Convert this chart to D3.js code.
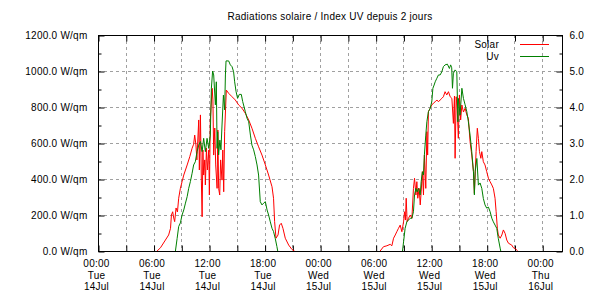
<!DOCTYPE html>
<html>
<head>
<meta charset="utf-8">
<script src="https://cdn.jsdelivr.net/npm/d3@7"></script>
<style>
  body { margin: 0; background: #fff; }
  text { font-family: "Liberation Sans", Arial, sans-serif; font-size: 10px; fill: #000; letter-spacing: 0.25px; }
</style>
</head>
<body>
<div id="chart"></div>
<script>
/* Radiations solaire / Index UV */

const title = "Radiations solaire / Index UV depuis 2 jours";
const seriesNames = ["Solar", "Uv"];
const days = ["2015-07-14", "2015-07-15"];
const rangeStart = "2015-07-14 00:00",
  rangeEnd = "2015-07-16 02:08";

// solar radiation, W/qm
const solarTue = [
  ["06:23", 0], ["06:45", 18], ["07:17", 61], ["07:38", 89], ["07:50", 126], ["07:56", 200],
  ["08:04", 218], ["08:11", 183], ["08:17", 163], ["08:26", 239], ["08:35", 217], ["08:43", 293],
  ["08:54", 348], ["09:05", 385], ["09:16", 422], ["09:27", 450], ["09:38", 478], ["09:55", 524],
  ["10:10", 571], ["10:20", 593], ["10:27", 644], ["10:35", 589], ["10:41", 506], ["10:53", 728],
  ["10:57", 450], ["11:04", 756], ["11:10", 394], ["11:15", 190], ["11:20", 561], ["11:25", 422],
  ["11:32", 506], ["11:36", 367], ["11:43", 572], ["11:49", 450], ["11:58", 561], ["12:02", 311],
  ["12:08", 728], ["12:20", 904], ["12:25", 839], ["12:30", 533], ["12:37", 683], ["12:43", 478],
  ["12:52", 348], ["12:57", 672], ["13:02", 348], ["13:09", 311], ["13:15", 506], ["13:24", 394],
  ["13:29", 561], ["13:35", 329], ["13:41", 663], ["13:52", 894], ["14:07", 876], ["14:29", 857],
  ["14:50", 839], ["15:12", 811], ["15:34", 793], ["15:55", 765], ["16:17", 728], ["16:38", 682],
  ["17:00", 626], ["17:21", 579], ["17:43", 533], ["18:05", 478], ["18:26", 422], ["18:48", 357],
  ["18:58", 293], ["19:05", 163], ["19:14", 71], ["19:27", 89], ["19:37", 144], ["19:48", 154],
  ["19:59", 126], ["20:14", 71], ["20:36", 33], ["20:57", 9], ["21:14", 0]
];

const solarWed = [
  ["06:29", 0], ["06:51", 24], ["07:13", 29], ["07:34", 37], ["07:45", 29], ["07:56", 71],
  ["08:07", 89], ["08:17", 107], ["08:28", 126], ["08:39", 144], ["08:50", 107], ["09:01", 163],
  ["09:07", 218], ["09:13", 172], ["09:18", 293], ["09:24", 163], ["09:33", 182], ["09:44", 200],
  ["09:55", 182], ["10:05", 348], ["10:12", 404], ["10:21", 311], ["10:27", 385], ["10:33", 293],
  ["10:42", 348], ["10:49", 256], ["10:55", 328], ["11:03", 441], ["11:10", 311], ["11:16", 533],
  ["11:25", 348], ["11:32", 663], ["11:37", 533], ["11:42", 774], ["11:53", 793], ["12:04", 811],
  ["12:15", 822], ["12:26", 829], ["12:37", 839], ["12:47", 829], ["12:58", 839], ["13:09", 848],
  ["13:19", 857], ["13:30", 885], ["13:41", 867], ["13:52", 885], ["14:03", 857], ["14:14", 848],
  ["14:24", 709], ["14:31", 861], ["14:35", 515], ["14:42", 857], ["14:49", 783], ["14:56", 626],
  ["15:03", 867], ["15:11", 728], ["15:19", 811], ["15:29", 772], ["15:40", 793], ["15:51", 756],
  ["16:01", 737], ["16:12", 607], ["16:23", 533], ["16:34", 441], ["16:40", 320], ["16:51", 552],
  ["16:59", 682], ["17:06", 626], ["17:13", 552], ["17:22", 515], ["17:28", 552], ["17:38", 496],
  ["17:49", 478], ["18:00", 441], ["18:11", 404], ["18:22", 385], ["18:33", 367], ["18:43", 348],
  ["18:54", 293], ["19:01", 218], ["19:09", 126], ["19:15", 89], ["19:27", 71], ["19:38", 89],
  ["19:48", 117], ["19:59", 98], ["20:10", 61], ["20:21", 43], ["20:42", 33], ["20:53", 18],
  ["21:08", 11], ["21:21", 0]
];

// UV index
const uvTue = [
  ["08:22", 0], ["08:33", 0.35], ["08:43", 0.68], ["08:54", 0.78], ["09:05", 1.0], ["09:16", 1.14],
  ["09:27", 1.33], ["09:38", 1.51], ["09:48", 1.74], ["09:59", 1.93], ["10:10", 2.16], ["10:20", 2.39],
  ["10:31", 2.48], ["10:42", 2.76], ["10:53", 2.94], ["11:04", 3.04], ["11:15", 2.76], ["11:25", 3.13],
  ["11:36", 2.76], ["11:47", 3.13], ["11:58", 2.85], ["12:08", 3.22], ["12:15", 4.52], ["12:23", 5.0],
  ["12:30", 4.89], ["12:41", 4.06], ["12:47", 4.7], ["12:52", 2.85], ["12:56", 3.31], ["13:02", 2.67],
  ["13:10", 3.08], ["13:17", 2.81], ["13:24", 3.5], ["13:33", 4.33], ["13:41", 3.92], ["13:46", 4.89],
  ["13:50", 5.28], ["14:07", 5.28], ["14:18", 5.17], ["14:29", 5.12], ["14:39", 4.98], ["14:46", 4.7],
  ["14:55", 4.43], ["15:05", 4.24], ["15:16", 4.35], ["15:29", 4.35], ["15:38", 4.15], ["15:55", 3.87],
  ["16:06", 3.69], ["16:17", 3.59], ["16:28", 3.22], ["16:38", 2.94], ["16:49", 2.81], ["17:00", 2.62],
  ["17:11", 2.39], ["17:21", 2.11], ["17:32", 1.37], ["17:43", 1.28], ["17:54", 1.33], ["18:05", 1.37],
  ["18:16", 1.14], ["18:26", 1.0], ["18:37", 0.81], ["18:48", 0.63], ["18:58", 0.54], ["19:09", 0.35],
  ["19:20", 0.12], ["19:25", 0]
];

const uvWed = [
  ["08:54", 0], ["09:01", 0.26], ["09:11", 0.63], ["09:22", 0.81], ["09:33", 0.86], ["09:44", 0.91],
  ["09:55", 0.91], ["10:05", 1.09], ["10:12", 1.56], ["10:21", 1.74], ["10:29", 1.64], ["10:38", 1.74],
  ["10:49", 1.56], ["10:55", 1.93], ["11:03", 2.2], ["11:10", 2.11], ["11:16", 2.67], ["11:25", 3.22],
  ["11:32", 3.59], ["11:42", 3.87], ["11:53", 3.96], ["12:04", 4.15], ["12:11", 4.52], ["12:19", 4.61],
  ["12:26", 4.7], ["12:37", 4.8], ["12:47", 4.89], ["12:58", 4.89], ["13:09", 4.98], ["13:19", 5.12],
  ["13:30", 5.17], ["13:45", 5.19], ["13:58", 5.07], ["14:06", 5.17], ["14:13", 5.09], ["14:18", 4.52],
  ["14:24", 4.94], ["14:35", 5.03], ["14:46", 4.98], ["14:53", 3.59], ["14:56", 4.24], ["15:07", 3.78],
  ["15:19", 4.52], ["15:29", 4.24], ["15:40", 4.06], ["15:51", 3.87], ["16:01", 3.59], ["16:12", 3.22],
  ["16:23", 2.76], ["16:34", 2.2], ["16:40", 1.56], ["16:45", 2.2], ["16:56", 2.57], ["17:06", 1.83],
  ["17:17", 1.89], ["17:28", 1.74], ["17:38", 1.46], ["17:49", 1.28], ["18:00", 1.19], ["18:11", 1.22],
  ["18:22", 1.09], ["18:33", 0.91], ["18:43", 0.81], ["18:54", 0.72], ["19:05", 0.63], ["19:15", 0.35],
  ["19:27", 0.08], ["19:31", 0]
];

const solarTicks = [0, 200, 400, 600, 800, 1000, 1200];
const uvTicks = [0, 1, 2, 3, 4, 5, 6];

const width = 610,
  height = 300,
  margin = ({ top: 35, right: 48, bottom: 49, left: 98 });

const svg = d3.select("#chart")
  .append("svg")
  .attr("width", width)
  .attr("height", height)
  .attr("viewBox", [0, 0, width, height]);

let timeParse = d3.timeParse("%Y-%m-%d %H:%M");

function toPoints(day, rows) {
  return rows.map(r => ({ t: timeParse(day + " " + r[0]), v: r[1] }));
}

let x = d3.scaleTime()
  .domain([timeParse(rangeStart), timeParse(rangeEnd)])
  .range([margin.left, width - margin.right]);

let y = d3.scaleLinear()
  .domain([0, 1200])
  .range([height - margin.bottom, margin.top]);

let y2 = d3.scaleLinear()
  .domain([0, 6])
  .range([height - margin.bottom, margin.top]);

const x0 = margin.left, x1 = width - margin.right,
  yTop = margin.top, yBot = height - margin.bottom;

// grid
let gridTimes = d3.timeHour.every(3).range(x.domain()[0], x.domain()[1])
  .filter(d => x(d) > x0 + 1 && x(d) < x1 - 1);

svg.append("g")
  .selectAll("line")
  .data(gridTimes)
  .join("line")
  .attr("x1", d => Math.round(x(d)) + 0.5)
  .attr("x2", d => Math.round(x(d)) + 0.5)
  .attr("y1", yTop)
  .attr("y2", yBot)
  .attr("stroke", "#a0a0a0")
  .attr("stroke-dasharray", "3,3");

svg.append("g")
  .selectAll("line")
  .data(solarTicks.slice(1, -1))
  .join("line")
  .attr("x1", x0)
  .attr("x2", x1)
  .attr("y1", d => Math.round(y(d)) + 0.5)
  .attr("y2", d => Math.round(y(d)) + 0.5)
  .attr("stroke", "#a0a0a0")
  .attr("stroke-dasharray", "3,3");

// left axis
svg.append("g")
  .attr("transform", `translate(${x0 + 0.5},0.5)`)
  .call(d3.axisLeft(y).tickValues(solarTicks).tickSize(-6).tickPadding(11)
    .tickFormat(d => d.toFixed(1) + " W/qm"))
  .call(g => g.select(".domain").remove());

svg.append("g")
  .attr("transform", `translate(${x0 + 0.5},0.5)`)
  .call(d3.axisLeft(y).tickValues(d3.range(100, 1200, 200)).tickSize(-3).tickFormat(""))
  .call(g => g.select(".domain").remove());

// right axis
svg.append("g")
  .attr("transform", `translate(${x1 + 0.5},0.5)`)
  .call(d3.axisRight(y2).tickValues(uvTicks).tickSize(-6).tickPadding(7)
    .tickFormat(d => d.toFixed(1)))
  .call(g => g.select(".domain").remove());

svg.append("g")
  .attr("transform", `translate(${x1 + 0.5},0.5)`)
  .call(d3.axisRight(y2).tickValues(d3.range(0.5, 6, 1)).tickSize(-3).tickFormat(""))
  .call(g => g.select(".domain").remove());

// bottom axis, 3h ticks, labels every 6h
let timeTicks = d3.timeHour.every(3).range(x.domain()[0], x.domain()[1]);
let fmt = d3.timeFormat("%H:%M|%a|%d%b");

svg.append("g")
  .attr("transform", `translate(0.5,${yBot + 0.5})`)
  .call(d3.axisBottom(x).tickValues(timeTicks).tickSize(-6).tickFormat(""))
  .call(g => g.select(".domain").remove());

svg.append("g")
  .attr("transform", `translate(0.5,${yTop + 0.5})`)
  .call(d3.axisTop(x).tickValues(timeTicks).tickSize(-6).tickFormat(""))
  .call(g => g.select(".domain").remove());

let labelTimes = timeTicks.filter(d => d.getHours() % 6 === 0);
let labels = svg.append("g")
  .selectAll("text")
  .data(labelTimes)
  .join("text")
  .attr("text-anchor", "middle")
  .attr("x", d => x(d) - 1.5);

labels.each(function (d) {
  let parts = fmt(d).split("|");
  d3.select(this).selectAll("tspan")
    .data(parts)
    .join("tspan")
    .attr("x", x(d) - 1.5)
    .attr("y", (p, i) => yBot + 16 + i * 11.7)
    .text(p => p);
});

svg.selectAll(".tick line").attr("stroke", "#000");
svg.selectAll(".tick text").attr("fill", "#000").attr("font-size", 10)
  .attr("font-family", "'Liberation Sans', Arial, sans-serif");

// series
let solarLine = d3.line()
  .x(d => x(d.t))
  .y(d => y(d.v));

let uvLine = d3.line()
  .x(d => x(d.t))
  .y(d => y2(d.v));

[toPoints(days[0], solarTue), toPoints(days[1], solarWed)].forEach(pts => {
  svg.append("path")
    .datum(pts)
    .attr("d", solarLine)
    .attr("fill", "none")
    .attr("stroke", "#ff0000")
    .attr("stroke-width", 1);
});

[toPoints(days[0], uvTue), toPoints(days[1], uvWed)].forEach(pts => {
  svg.append("path")
    .datum(pts)
    .attr("d", uvLine)
    .attr("fill", "none")
    .attr("stroke", "#008000")
    .attr("stroke-width", 1);
});

// border
svg.append("rect")
  .attr("x", x0 + 0.5)
  .attr("y", yTop + 0.5)
  .attr("width", x1 - x0)
  .attr("height", yBot - yTop)
  .attr("fill", "none")
  .attr("stroke", "#000");

// legend
const legendColors = ["#ff0000", "#008000"];
seriesNames.forEach((name, i) => {
  let ly = 44.5 + i * 12;
  svg.append("text")
    .attr("x", 499)
    .attr("y", ly + 3.5)
    .attr("text-anchor", "end")
    .text(name);
  svg.append("line")
    .attr("x1", 520)
    .attr("x2", 549)
    .attr("y1", ly)
    .attr("y2", ly)
    .attr("stroke", legendColors[i]);
});

// title
svg.append("text")
  .attr("x", (x0 + x1) / 2)
  .attr("y", 20)
  .attr("text-anchor", "middle")
  .text(title);
</script>
</body>
</html>
